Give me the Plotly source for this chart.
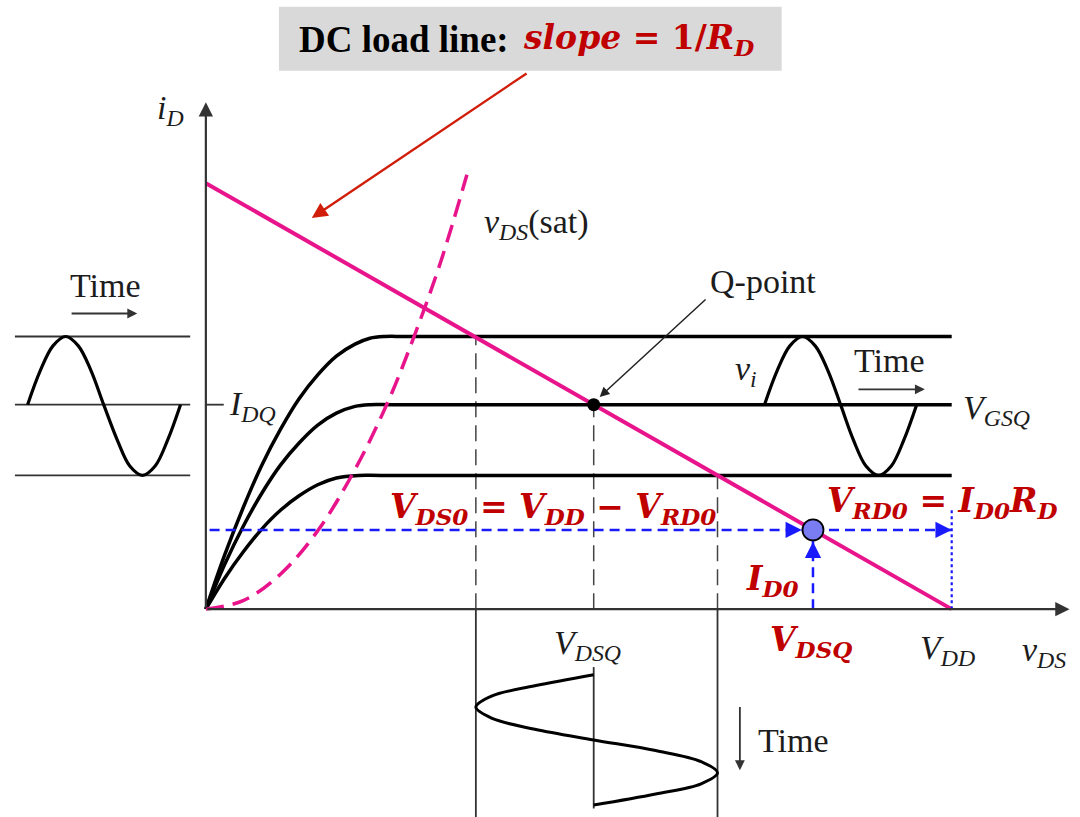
import plotly.graph_objects as go

# ---- circuit / operating values (vDS in V, iD in mA) ----
VDD = 10.0
RD = 2.0
I_SAT = [3.20, 2.40, 1.57]          # saturation current of the three vGS curves
VDSQ = 5.20
IDQ = 2.40
VDS_SWING = [3.62, 6.86]            # vDS at the upper / lower curve on the load line
VDS0 = 8.14
ID0 = 0.93

# ---- output characteristics ----
curve_hi_v = [0, 0.25, 0.5, 0.75, 1.0, 1.25, 1.5, 1.75, 2.0, 2.2, 2.4, 2.7, 10.0]
curve_hi_i = [0, 0.63, 1.19, 1.69, 2.11, 2.47, 2.75, 2.97, 3.11, 3.18, 3.20, 3.20, 3.20]
curve_mid_v = [0, 0.25, 0.5, 0.75, 1.0, 1.25, 1.5, 1.75, 2.0, 2.2, 2.5, 10.0]
curve_mid_i = [0, 0.52, 0.97, 1.36, 1.69, 1.95, 2.16, 2.30, 2.38, 2.40, 2.40, 2.40]
curve_lo_v = [0, 0.25, 0.5, 0.75, 1.0, 1.25, 1.5, 1.75, 2.05, 2.35, 10.0]
curve_lo_i = [0, 0.36, 0.67, 0.94, 1.16, 1.33, 1.46, 1.54, 1.57, 1.57, 1.57]

# vDS(sat) boundary
sat_v = [0, 0.5, 1.0, 1.5, 2.0, 2.45, 2.8, 3.15, 3.5]
sat_i = [0, 0.10, 0.41, 0.92, 1.64, 2.45, 3.22, 4.08, 5.10]

# input signal drawn on the left
vin_left_v = [-2.39, -2.22, -2.05, -1.88, -1.71, -1.54, -1.37, -1.19, -1.02, -0.85, -0.68, -0.51, -0.34]
vin_left_i = [2.40, 2.80, 3.09, 3.20, 3.09, 2.80, 2.40, 1.99, 1.68, 1.57, 1.68, 1.99, 2.40]
# v_i drawn on the VGSQ curve
vi_v = [7.49, 7.66, 7.83, 8.00, 8.17, 8.34, 8.51, 8.68, 8.85, 9.02, 9.19, 9.36, 9.53]
vi_i = [2.40, 2.80, 3.09, 3.20, 3.09, 2.80, 2.40, 1.99, 1.68, 1.57, 1.68, 1.99, 2.40]
# resulting vDS swing (time runs downward)
vds_out_v = [5.20, 4.41, 3.83, 3.62, 3.83, 4.41, 5.20, 6.03, 6.64, 6.86, 6.64, 6.03, 5.20]
vds_out_t = [-0.77, -0.90, -1.02, -1.15, -1.28, -1.41, -1.535, -1.66, -1.79, -1.92, -2.05, -2.17, -2.30]

MAGENTA = "#e8148c"
DARK = "#1c1c1c"
RED = "#c00000"
BLUE = "#1a1aff"
SERIF = "Liberation Serif"
MATH = "DejaVu Serif"
LBL = 34       # size of the black annotation text
EQ = 33        # size of the red equations

fig = go.Figure()


def line(x, y, color=DARK, width=2.0, dash="solid", shape="linear"):
    fig.add_trace(go.Scatter(x=x, y=y, mode="lines", hoverinfo="skip",
                             line=dict(color=color, width=width, dash=dash, shape=shape,
                                       smoothing=1.0)))


# reference lines of the left input signal
for lvl in I_SAT:
    line([-2.56, -0.21], [lvl, lvl], color="#333333", width=1.8)
line(vin_left_v, vin_left_i, color="black", width=3.2, shape="spline")

# projection lines from the load-line intersections
line([VDS_SWING[0], VDS_SWING[0]], [0, I_SAT[0]], color="#444444", width=1.5, dash="16px,8px")
line([VDSQ, VDSQ], [0, IDQ], color="#444444", width=1.5, dash="16px,8px")
line([VDS_SWING[1], VDS_SWING[1]], [0, I_SAT[2]], color="#444444", width=1.5, dash="16px,8px")
line([VDS_SWING[0], VDS_SWING[0]], [0, -2.6], color="#333333", width=1.8)
line([VDS_SWING[1], VDS_SWING[1]], [0, -2.6], color="#333333", width=1.8)
line([VDSQ, VDSQ], [-0.68, -2.34], color="#333333", width=1.8)
line(vds_out_v, vds_out_t, color="black", width=3, shape="spline")

# characteristic curves
line(curve_hi_v, curve_hi_i, color="black", width=3.5, shape="spline")
line(curve_mid_v, curve_mid_i, color="black", width=3.5, shape="spline")
line(curve_lo_v, curve_lo_i, color="black", width=3.5, shape="spline")
line(vi_v, vi_i, color="black", width=3.2, shape="spline")

# IDQ tick
line([0, 0.24], [IDQ, IDQ], color="#333333", width=1.8)

# vDS(sat) boundary and DC load line
line(sat_v, sat_i, color=MAGENTA, width=3.5, dash="18px,9px", shape="spline")
line([0, VDD], [VDD / RD, 0], color=MAGENTA, width=4)

# blue construction lines for the second operating point
line([0.05, VDS0], [ID0, ID0], color=BLUE, width=2.5, dash="10px,6px")
line([VDS0, VDD], [ID0, ID0], color=BLUE, width=2.5, dash="10px,6px")
line([VDS0, VDS0], [0, ID0], color=BLUE, width=2.5, dash="10px,6px")
line([VDD, VDD], [0, 1.19], color=BLUE, width=2.2, dash="dot")

# Q-point and the second operating point
fig.add_trace(go.Scatter(x=[VDSQ], y=[IDQ], mode="markers", hoverinfo="skip",
                         marker=dict(size=13, color="black")))
fig.add_trace(go.Scatter(x=[VDS0], y=[ID0], mode="markers", hoverinfo="skip",
                         marker=dict(size=21, color="#7a7cf2",
                                     line=dict(color="black", width=1.8))))

ann = []


def arrow(tail, tip, color=DARK, width=2.0, size=1.2, head=2):
    ann.append(dict(x=tip[0], y=tip[1], ax=tail[0], ay=tail[1], xref="x", yref="y",
                    axref="x", ayref="y", text="", showarrow=True, arrowhead=head,
                    arrowsize=size, arrowwidth=width, arrowcolor=color))


def label(x, y, text, size=LBL, color=DARK, family=SERIF, xanchor="center"):
    ann.append(dict(x=x, y=y, xref="x", yref="y", text=text, showarrow=False,
                    xanchor=xanchor, yanchor="middle",
                    font=dict(family=family, size=size, color=color)))


# axes
arrow((0, 0), (11.58, 0), color="#333333", width=2.2, size=1.3)
arrow((0, 0), (0, 5.95), color="#333333", width=2.2, size=1.3)

# pointers
arrow((4.32, 6.30), (1.42, 4.59), color="#d01e0a", width=2.4, size=1.3)
arrow((6.72, 3.65), (5.28, 2.49), color="#222222", width=1.5, size=1.3)
arrow((-1.82, 3.47), (-0.92, 3.47), color="#333333", width=1.8, size=1.1)
arrow((8.73, 2.58), (9.64, 2.58), color="#333333", width=1.8, size=1.1)
arrow((7.16, -1.13), (7.16, -1.89), color="#333333", width=1.8, size=1.1)

# blue arrowheads
arrow((7.80, ID0), (7.99, ID0), color=BLUE, width=2.5, size=1.3)
arrow((9.80, ID0), (VDD, ID0), color=BLUE, width=2.5, size=1.3)
arrow((VDS0, 0.60), (VDS0, 0.79), color=BLUE, width=2.5, size=1.3)

# black italic labels
label(-0.48, 5.86, "<i>i<sub>D</sub></i>")
label(0.29, 2.38, "<i>I<sub>DQ</sub></i>", xanchor="left")
label(3.70, 4.52, "<i>v<sub>DS</sub></i>(sat)", xanchor="left")
label(7.47, 3.85, "Q-point")
label(7.24, 2.80, "<i>v<sub>i</sub></i>")
label(9.17, 2.92, "Time")
label(10.13, 2.34, "<i>V<sub>GSQ</sub></i>", xanchor="left")
label(-1.35, 3.80, "Time")
label(5.12, -0.42, "<i>V<sub>DSQ</sub></i>")
label(9.94, -0.48, "<i>V<sub>DD</sub></i>")
label(11.24, -0.50, "<i>v<sub>DS</sub></i>")
label(7.88, -1.54, "Time")

# red equations
label(4.65, 1.18, "<b><i>V<sub>DS0</sub></i> = <i>V<sub>DD</sub></i> − <i>V<sub>RD0</sub></i></b>",
      size=EQ, color=RED, family=MATH)
label(9.87, 1.25, "<b><i>V<sub>RD0</sub></i> = <i>I<sub>D0</sub>R<sub>D</sub></i></b>",
      size=EQ, color=RED, family=MATH)
label(7.60, 0.34, "<b><i>I<sub>D0</sub></i></b>", size=EQ, color=RED, family=MATH)
label(8.12, -0.38, "<b><i>V<sub>DSQ</sub></i></b>", size=EQ, color=RED, family=MATH)

# title box
fig.add_shape(type="rect", xref="x", yref="y", x0=0.98, x1=7.72, y0=6.32, y1=7.07,
              fillcolor="#d9d9d9", line=dict(width=0), layer="below")
label(1.22, 6.69, "<b>DC load line:</b>", size=37, color="black", xanchor="left")
label(4.22, 6.69, "<b><i>slope</i> = 1/<i>R<sub>D</sub></i></b>", size=33, color=RED,
      family=MATH, xanchor="left")

fig.update_layout(
    width=1080, height=817, autosize=False,
    margin=dict(l=0, r=0, t=0, b=0),
    paper_bgcolor="white", plot_bgcolor="white",
    showlegend=False,
    xaxis=dict(range=[-2.76, 11.72], visible=False, fixedrange=True),
    yaxis=dict(range=[-2.44, 7.15], visible=False, fixedrange=True),
    annotations=ann,
)

fig.write_html("out.html")
